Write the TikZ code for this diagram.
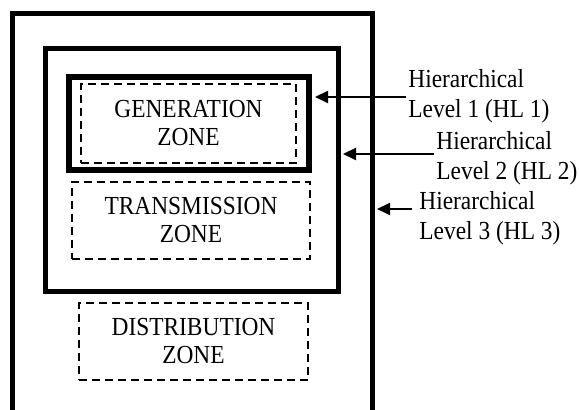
\documentclass[tikz,border=0pt]{standalone}
\usepackage{fontspec}
\setmainfont{Liberation Serif}
\newfontfamily\lblfont[FakeStretch=0.9]{Liberation Serif}
\usetikzlibrary{arrows.meta,fit}

\begin{document}
\begin{tikzpicture}[x=0.5pt,y=-0.5pt,
  level/.style={draw,line width=2.5pt,inner sep=0pt},
  zone/.style={draw,dash pattern=on 4pt off 2.5pt,line width=0.8pt,inner sep=0pt},
  zonetext/.style={align=center,inner sep=0pt,font=\lblfont\fontsize{13}{14}\selectfont},
  hltext/.style={align=left,anchor=west,inner sep=1pt,font=\lblfont\fontsize{13}{15}\selectfont},
  hlarrow/.style={line width=1pt,shorten >=1.25pt,-{Triangle[length=6.5pt,width=6pt]}}]
 % nested levels, the outer one runs off the bottom
 \begin{scope}
  \clip (0,0) rectangle (579,410);
  \node[level,fit={(12,14) (372,440)}] (hl3) {};
 \end{scope}
 \node[level,fit={(45,49) (338,292)}] (hl2) {};
 \node[level,line width=3pt,fit={(69,77) (309,170)}] (hl1) {};
 % zones
 \node[zone,fit={(81,84) (296,163)}] (gen) {};
 \node[zone,fit={(72,182) (310,259)}] (trans) {};
 \node[zone,fit={(79,303) (308,380)}] (dist) {};
 \node[zonetext] (gentxt) at (gen) {GENERATION\\ZONE};
 \node[zonetext] (transtxt) at (trans) {TRANSMISSION\\ZONE};
 \node[zonetext] (disttxt) at (dist) {DISTRIBUTION\\ZONE};
 % level labels
 \node[hltext] (lab1) at (406,96) {Hierarchical\\Level 1 (HL 1)};
 \node[hltext] (lab2) at (434,158) {Hierarchical\\Level 2 (HL 2)};
 \node[hltext] (lab3) at (417,218) {Hierarchical\\Level 3 (HL 3)};
 \draw[hlarrow,shorten >=1.5pt] ([yshift=-0.5pt]lab1.west) -- ([yshift=-0.5pt]lab1.west -| hl1.east);
 \draw[hlarrow] ([yshift=2pt]lab2.west) -- ([yshift=2pt]lab2.west -| hl2.east);
 \draw[hlarrow,shorten <=2.5pt] ([yshift=4.5pt]lab3.west) -- ([yshift=4.5pt]lab3.west -| hl3.east);
 \pgfresetboundingbox
 \useasboundingbox (0,0) rectangle (579,410);
\end{tikzpicture}
\end{document}
